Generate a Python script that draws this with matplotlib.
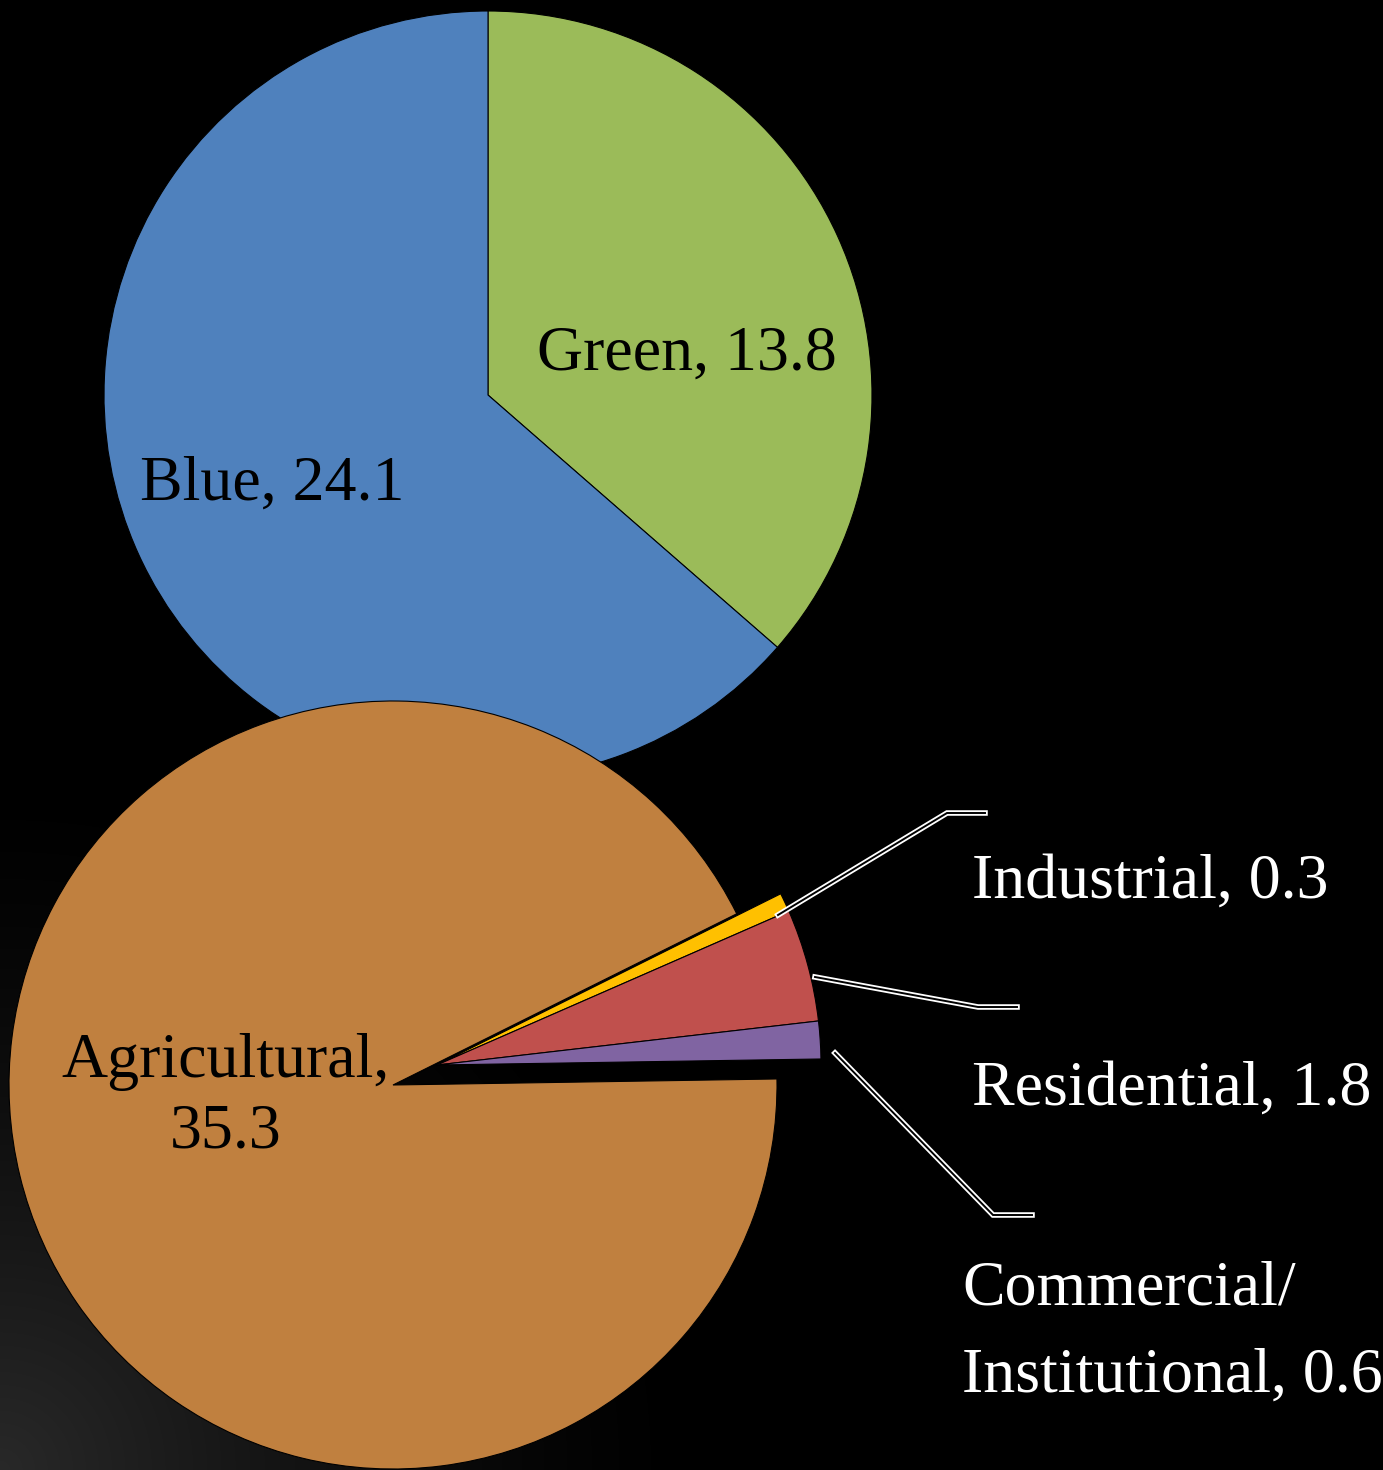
import numpy as np
import matplotlib.pyplot as plt
from matplotlib import patheffects as pe

plt.rcParams['font.family'] = ['Liberation Serif', 'DejaVu Serif']

# upper pie: green vs blue water
water_labels = ['Green', 'Blue']
water_values = [13.8, 24.1]
water_colors = ['#9BBB59', '#4F81BD']

# lower pie: blue water use by sector
use_labels = ['Agricultural', 'Industrial', 'Residential', 'Commercial/Institutional']
use_values = [35.3, 0.3, 1.8, 0.6]
use_colors = ['#C0803F', '#FFC000', '#C0504D', '#8064A2']
use_fmt = ['Agricultural,\n{}', 'Industrial, {}', 'Residential, {}',
           'Commercial/\nInstitutional, {}']

W, H = 1383, 1470
fig = plt.figure(figsize=(W / 100, H / 100), dpi=100, facecolor='black')

# faint grey glow in the lower left corner
bg = fig.add_axes([0, 0, 1, 1], zorder=-1)
yy, xx = np.mgrid[0:H, 0:W]
d = np.hypot(xx, H - yy) / 700.0
glow = 0.16 * np.clip(1 - d, 0, 1) ** 1.4
bg.imshow(np.dstack([glow] * 3), extent=(0, W, 0, H), origin='upper', aspect='auto')
bg.axis('off')

ax = fig.add_axes([0, 0, 1, 1])
ax.set_facecolor('none')

wp = dict(edgecolor='black', linewidth=0.8)
top_c, bot_c, R = (488, 1075), (393, 385), 384

ax.pie(water_values, colors=water_colors, startangle=90, counterclock=False,
       center=top_c, radius=R, wedgeprops=wp)
wedges, _ = ax.pie(use_values, colors=use_colors, startangle=0.9, counterclock=False,
                   center=bot_c, radius=R, wedgeprops=wp)
# pull the small sectors out of the pie together
for w in wedges[1:]:
    w.set_center((bot_c[0] + 44, bot_c[1] + 20))

ax.set_xlim(0, W)
ax.set_ylim(0, H)
ax.axis('off')

# multi-line labels are placed by the baseline of their last line
fs = 46
ax.text(687, 1100, f'{water_labels[0]}, {water_values[0]}', fontsize=fs, ha='center', va='baseline')
ax.text(272, 970, f'{water_labels[1]}, {water_values[1]}', fontsize=fs, ha='center', va='baseline')
ax.text(226, 322, use_fmt[0].format(use_values[0]), fontsize=fs, ha='center',
        va='baseline', multialignment='center', linespacing=1.3)
ax.text(972, 572, use_fmt[1].format(use_values[1]), fontsize=fs, color='white', va='baseline')
ax.text(972, 365, use_fmt[2].format(use_values[2]), fontsize=fs, color='white', va='baseline')
ax.text(962, 78, use_fmt[3].format(use_values[3]), fontsize=fs, color='white',
        va='baseline', linespacing=1.68)

# hollow leader lines
leaders = [
    [(778, 915), (947, 813), (985, 813)],
    [(815, 977), (978, 1007), (1017, 1007)],
    [(835, 1053), (993, 1215), (1032, 1215)],
]
for pts in leaders:
    xs = [p[0] for p in pts]
    ys = [H - p[1] for p in pts]
    ax.plot(xs, ys, color='black', lw=1.4, solid_joinstyle='miter',
            path_effects=[pe.Stroke(linewidth=4, foreground='white'), pe.Normal()])

fig.savefig('out.png', dpi=100, facecolor='black')
